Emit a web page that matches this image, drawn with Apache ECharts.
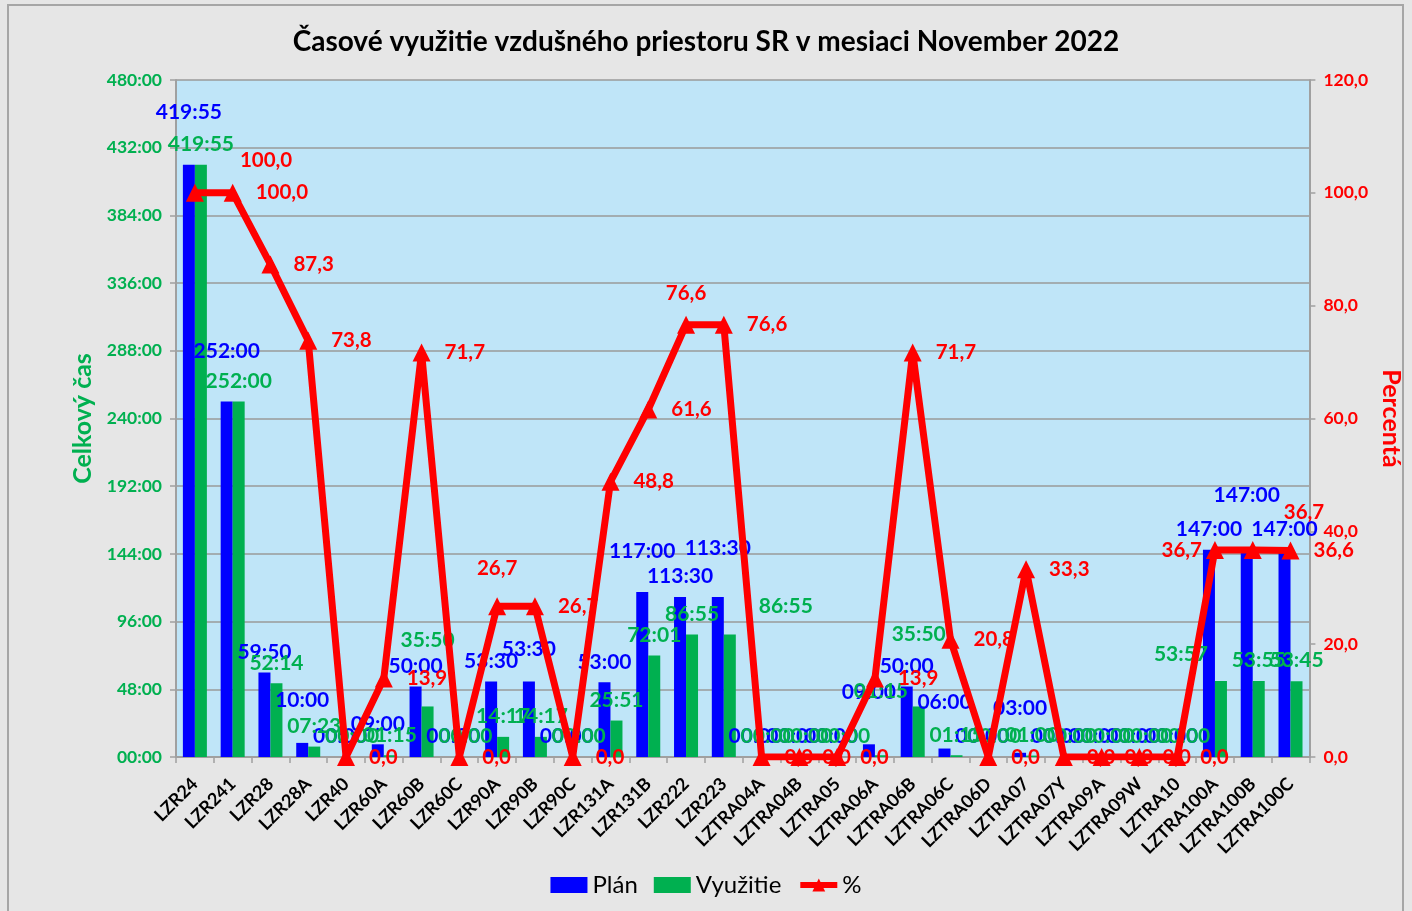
<!DOCTYPE html>
<html>
<head>
    <meta charset="UTF-8">
    <title>Časové využitie vzdušného priestoru SR</title>
    <style>
        html, body {
            margin: 0;
            padding: 0;
            overflow: hidden;
            background: #e6e6e6;
        }
        #frame {
            position: absolute;
            left: 7px;
            top: 4px;
            width: 1397px;
            height: 920px;
            border: 2px solid #a6a6a6;
            box-sizing: border-box;
        }
        #chart {
            position: absolute;
            left: 0;
            top: 0;
            width: 1412px;
            height: 911px;
        }
    </style>
    <script src="https://cdn.jsdelivr.net/npm/echarts@6/dist/echarts.min.js"></script>
</head>
<body>
<div id="frame"></div>
<div id="chart"></div>
<script>
    const categories = ['LZR24', 'LZR241', 'LZR28', 'LZR28A', 'LZR40', 'LZR60A', 'LZR60B', 'LZR60C',
        'LZR90A', 'LZR90B', 'LZR90C', 'LZR131A', 'LZR131B', 'LZR222', 'LZR223', 'LZTRA04A',
        'LZTRA04B', 'LZTRA05', 'LZTRA06A', 'LZTRA06B', 'LZTRA06C', 'LZTRA06D', 'LZTRA07',
        'LZTRA07Y', 'LZTRA09A', 'LZTRA09W', 'LZTRA10', 'LZTRA100A', 'LZTRA100B', 'LZTRA100C'];

    // Plán / Využitie in hours:minutes
    const planTimes = ['419:55', '252:00', '59:50', '10:00', '00:00', '09:00', '50:00', '00:00',
        '53:30', '53:30', '00:00', '53:00', '117:00', '113:30', '113:30', '00:00',
        '00:00', '00:00', '09:00', '50:00', '06:00', '00:00', '03:00',
        '00:00', '00:00', '00:00', '00:00', '147:00', '147:00', '147:00'];
    const usageTimes = ['419:55', '252:00', '52:14', '07:23', '00:00', '01:15', '35:50', '00:00',
        '14:17', '14:17', '00:00', '25:51', '72:01', '86:55', '86:55', '00:00',
        '00:00', '00:00', '01:15', '35:50', '01:15', '00:00', '01:00',
        '00:00', '00:00', '00:00', '00:00', '53:57', '53:55', '53:45'];
    // %
    const percent = [100.0, 100.0, 87.3, 73.8, 0.0, 13.9, 71.7, 0.0,
        26.7, 26.7, 0.0, 48.8, 61.6, 76.6, 76.6, 0.0,
        0.0, 0.0, 13.9, 71.7, 20.8, 0.0, 33.3,
        0.0, 0.0, 0.0, 0.0, 36.7, 36.7, 36.6];

    function toHours(t) {
        let p = t.split(':');
        return parseInt(p[0], 10) + parseInt(p[1], 10) / 60;
    }

    const planHours = planTimes.map(toHours);
    const usageHours = usageTimes.map(toHours);

    const FONT = 'Lato, "Noto Sans", sans-serif';
    const BLUE = '#0000ff', GREEN = '#00b050', RED = '#ff0000';

    // hand-moved labels (as in the original workbook), by category
    const planLabelMoves = {
        LZR24: {distance: 42}, LZR241: {distance: 40}, LZR28A: {distance: 32},
        LZR90B: {distance: 22}, LZR131B: {distance: 30}, LZR223: {distance: 38},
        LZTRA06A: {distance: 42}, LZTRA06C: {distance: 36}, LZTRA07: {distance: 34},
        LZTRA100B: {distance: 44}
    };
    const usageLabelMoves = {
        LZR60B: {distance: 56}, LZTRA06A: {distance: 54}, LZTRA06B: {distance: 62},
        LZR223: {distance: 18, offset: [56, 0]}, LZTRA100A: {distance: 16, offset: [-40, 0]}
    };
    const pctLabelMoves = {
        LZR24: {position: 'right', offset: [22, -32]},
        LZR90A: {position: 'top', distance: 18},
        LZR222: {position: 'top', distance: 12},
        LZTRA100A: {position: 'left', distance: 4},
        LZTRA100B: {position: 'right', offset: [8, -38]}
    };

    function withMoves(values, moves) {
        return values.map((v, i) => moves[categories[i]]
            ? {value: v, label: moves[categories[i]]}
            : v);
    }

    let chart = echarts.init(document.getElementById('chart'), null, {renderer: 'canvas'});

    let option = {
        backgroundColor: 'transparent',
        animation: false,
        textStyle: {fontFamily: FONT},
        title: {
            text: 'Časové využitie vzdušného priestoru SR v mesiaci November 2022',
            left: 'center',
            top: 23,
            textStyle: {fontSize: 28, fontWeight: 'bold', color: '#000', fontFamily: FONT}
        },
        legend: {
            bottom: 9,
            left: 'center',
            itemWidth: 37,
            itemHeight: 16,
            itemGap: 16,
            textStyle: {fontSize: 24, color: '#000', fontFamily: FONT},
            data: [
                {name: 'Plán', icon: 'rect'},
                {name: 'Využitie', icon: 'rect'},
                {name: '%', lineStyle: {width: 6}}
            ]
        },
        grid: {
            left: 176,
            right: 95,
            top: 80,
            bottom: 154,
            show: true,
            backgroundColor: '#bfe5f8',
            borderWidth: 0
        },
        xAxis: {
            type: 'category',
            data: categories,
            axisLine: {lineStyle: {color: '#a0a0a0', width: 2}},
            axisTick: {show: true, length: 6, lineStyle: {color: '#a0a0a0', width: 1.5}},
            axisLabel: {
                rotate: 45,
                interval: 0,
                color: '#000',
                fontSize: 18,
                fontWeight: 'bold',
                fontFamily: FONT,
                margin: 24
            }
        },
        yAxis: [
            {
                type: 'value',
                min: 0,
                max: 480,
                interval: 48,
                name: 'Celkový čas',
                nameLocation: 'middle',
                nameRotate: 90,
                nameGap: 77,
                nameTextStyle: {color: GREEN, fontSize: 25, fontWeight: 'bold', fontFamily: FONT},
                axisLine: {show: true, lineStyle: {color: '#a0a0a0', width: 2}},
                axisTick: {show: true, length: 6, lineStyle: {color: '#a0a0a0', width: 1.5}},
                splitLine: {lineStyle: {color: '#9a9a9a', width: 1.5}},
                axisLabel: {
                    color: GREEN,
                    fontSize: 17.5,
                    fontWeight: 'bold',
                    fontFamily: FONT,
                    margin: 14,
                    formatter: v => (v < 10 ? '0' + v : v) + ':00'
                }
            },
            {
                type: 'value',
                min: 0,
                max: 120,
                interval: 20,
                name: 'Percentá',
                nameLocation: 'middle',
                nameRotate: -90,
                nameGap: 54,
                nameTextStyle: {color: RED, fontSize: 25, fontWeight: 'bold', fontFamily: FONT},
                axisLine: {show: true, lineStyle: {color: '#a0a0a0', width: 2}},
                axisTick: {show: true, length: 6, lineStyle: {color: '#a0a0a0', width: 1.5}},
                splitLine: {show: false},
                axisLabel: {
                    color: RED,
                    fontSize: 17.5,
                    fontWeight: 'bold',
                    fontFamily: FONT,
                    margin: 14,
                    formatter: v => v.toFixed(1).replace('.', ',')
                }
            }
        ],
        series: [
            {
                name: 'Plán',
                type: 'bar',
                yAxisIndex: 0,
                data: withMoves(planHours, planLabelMoves),
                barWidth: 12,
                barGap: '0%',
                itemStyle: {color: BLUE},
                label: {
                    show: true,
                    position: 'top',
                    distance: 10,
                    color: BLUE,
                    fontSize: 21,
                    fontWeight: 'bold',
                    fontFamily: FONT,
                    formatter: p => planTimes[p.dataIndex]
                },
                z: 2
            },
            {
                name: 'Využitie',
                type: 'bar',
                yAxisIndex: 0,
                data: withMoves(usageHours, usageLabelMoves),
                barWidth: 12,
                itemStyle: {color: GREEN},
                label: {
                    show: true,
                    position: 'top',
                    distance: 10,
                    color: GREEN,
                    fontSize: 21,
                    fontWeight: 'bold',
                    fontFamily: FONT,
                    formatter: p => usageTimes[p.dataIndex]
                },
                z: 2
            },
            {
                name: '%',
                type: 'line',
                yAxisIndex: 1,
                data: withMoves(percent, pctLabelMoves),
                symbol: 'triangle',
                symbolSize: 18,
                lineStyle: {color: RED, width: 7},
                itemStyle: {color: RED},
                label: {
                    show: true,
                    position: 'right',
                    distance: 14,
                    color: RED,
                    fontSize: 20.5,
                    fontWeight: 'bold',
                    fontFamily: FONT,
                    formatter: p => p.value.toFixed(1).replace('.', ',')
                },
                z: 3
            }
        ]
    };

    chart.setOption(option);
</script>
</body>
</html>
